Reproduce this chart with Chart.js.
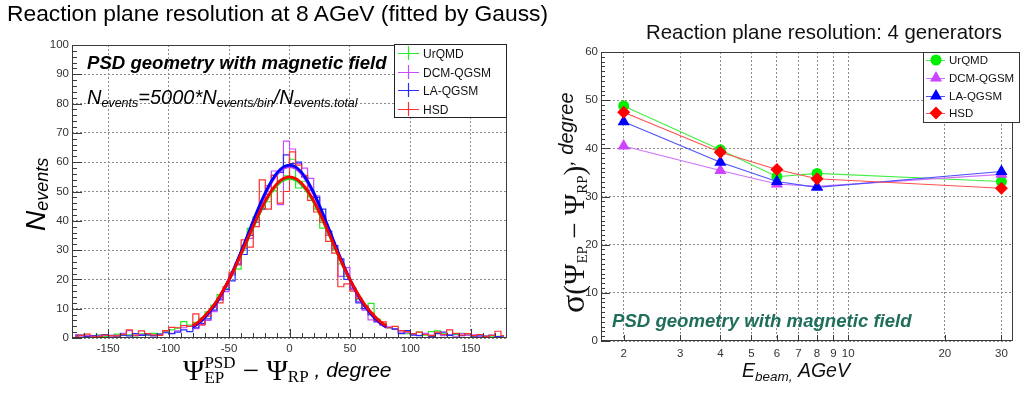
<!DOCTYPE html>
<html>
<head>
<meta charset="utf-8">
<script src="https://cdn.jsdelivr.net/npm/chart.js@4.4.1/dist/chart.umd.min.js"></script>
<style>
  html, body { margin: 0; padding: 0; background: #fff; width: 1020px; height: 394px; overflow: hidden; }
  canvas { position: absolute; top: 0; }
  #c1 { left: 0; }
  #c2 { left: 520px; }
  #title { position: absolute; left: 7px; top: -1.5px; font: 22.8px "Liberation Sans", Arial, sans-serif; line-height: 28px; white-space: nowrap; color: #000; }
</style>
</head>
<body>
<canvas id="c1" width="515" height="394"></canvas>
<canvas id="c2" width="500" height="394"></canvas>
<div id="title">Reaction plane resolution at 8 AGeV (fitted by Gauss)</div>
<script>
// ---- data: histogram at 8 AGeV (5 degree bins, centres) ----
const binCenters = [
  -177.5, -172.5, -167.5, -162.5, -157.5, -152.5, -147.5, -142.5, -137.5, -132.5, -127.5, -122.5,
  -117.5, -112.5, -107.5, -102.5, -97.5, -92.5, -87.5, -82.5, -77.5, -72.5, -67.5, -62.5,
  -57.5, -52.5, -47.5, -42.5, -37.5, -32.5, -27.5, -22.5, -17.5, -12.5, -7.5, -2.5,
  2.5, 7.5, 12.5, 17.5, 22.5, 27.5, 32.5, 37.5, 42.5, 47.5, 52.5, 57.5,
  62.5, 67.5, 72.5, 77.5, 82.5, 87.5, 92.5, 97.5, 102.5, 107.5, 112.5, 117.5,
  122.5, 127.5, 132.5, 137.5, 142.5, 147.5, 152.5, 157.5, 162.5, 167.5, 172.5, 177.5
];
const histUrQMD = [
  0.6, 0.9, 0.4, 0.7, 1.1, 0.5, 0.8, 1.3, 0.9, 1.1, 0.7, 1.4, 1.0, 1.6, 1.3, 2.2, 2.8,
  3.4, 5.6, 4.4, 5.3, 6.8, 8.9, 11.2, 14.8, 16.9, 21.8, 23.5, 31.5, 37.4, 41.5, 44.2, 46.5, 50.2, 53.8, 55.3,
  61.0, 51.2, 53.5, 48.2, 44.0, 37.5, 35.5, 30.2, 25.3, 21.0, 16.5, 13.2, 10.8, 11.8, 6.5, 4.8, 3.5, 3.0,
  2.5, 1.5, 1.2, 2.0, 1.0, 2.2, 2.4, 1.4, 0.9, 1.2, 1.6, 1.0, 0.7, 0.5, 0.8, 0.4, 0.6, 0.3
];
const histDCM = [
  1.2, 0.4, 0.8, 0.5, 0.9, 1.0, 0.6, 0.9, 1.6, 2.5, 0.8, 1.2, 1.5, 0.7, 1.0, 2.0, 1.6,
  2.4, 3.5, 4.0, 3.2, 4.5, 6.0, 9.0, 13.5, 15.8, 21.5, 25.5, 30.5, 34.0, 41.0, 46.0, 52.0, 57.0, 45.5, 67.2,
  64.5, 59.5, 58.0, 54.5, 48.5, 41.5, 35.0, 30.5, 21.0, 24.0, 16.5, 12.5, 9.5, 6.2, 5.8, 4.5, 3.8, 3.2,
  2.0, 1.8, 1.3, 0.9, 1.6, 1.0, 1.8, 0.8, 1.2, 0.6, 1.5, 0.9, 1.1, 0.5, 0.7, 0.9, 0.4, 0.6
];
const histLAQGSM = [
  0.7, 1.0, 0.5, 0.8, 0.6, 1.2, 0.9, 0.4, 1.0, 0.7, 1.5, 0.9, 1.1, 0.8, 1.3, 1.8, 1.5,
  2.0, 2.8, 2.2, 3.5, 5.0, 6.5, 9.5, 13.0, 16.5, 19.5, 25.0, 28.5, 35.0, 39.5, 44.0, 49.0, 55.5, 56.5, 62.5,
  59.5, 60.0, 55.0, 50.5, 48.0, 44.0, 36.5, 31.5, 27.0, 20.0, 17.0, 12.0, 10.0, 8.0, 5.5, 4.5, 3.5, 3.0,
  1.5, 2.5, 1.0, 0.8, 1.2, 0.5, 1.5, 2.0, 0.9, 1.5, 0.8, 1.5, 0.6, 1.0, 0.4, 0.9, 0.5, 0.3
];
const histHSD = [
  0.4, 0.9, 1.3, 0.6, 0.5, 1.0, 0.8, 0.7, 1.2, 2.8, 1.0, 2.4, 1.5, 1.1, 0.9, 2.5, 3.6,
  3.5, 4.2, 4.0, 8.2, 4.5, 7.5, 10.5, 12.0, 17.5, 22.5, 25.0, 33.5, 31.0, 38.0, 54.0, 44.0, 55.5, 46.0, 50.0,
  63.5, 59.0, 55.5, 47.0, 43.0, 39.5, 33.0, 29.0, 17.5, 18.5, 16.0, 13.5, 11.0, 8.5, 6.0, 5.5, 3.5, 4.0,
  2.5, 2.2, 1.5, 2.0, 1.2, 0.8, 2.0, 1.2, 2.8, 1.6, 1.0, 1.5, 0.8, 1.2, 0.5, 0.9, 2.3, 0.8
];

// Gauss fits, every 5 degrees
const fitX = [-80, -75, -70, -65, -60, -55, -50, -45, -40, -35, -30, -25, -20, -15, -10, -5, 0,
  5, 10, 15, 20, 25, 30, 35, 40, 45, 50, 55, 60, 65, 70, 75, 80];
const fitUrQMD = [4.0, 5.5, 7.5, 9.8, 12.7, 16.0, 19.8, 24.0, 28.5, 33.2, 37.9, 42.3, 46.4, 49.8, 52.3, 53.9, 54.5,
  53.9, 52.3, 49.8, 46.4, 42.3, 37.9, 33.2, 28.5, 24.0, 19.8, 16.0, 12.7, 9.8, 7.5, 5.5, 4.0];
const fitDCM = [3.7, 5.1, 7.0, 9.4, 12.3, 15.8, 19.8, 24.3, 29.3, 34.4, 39.7, 44.6, 49.2, 53.1, 56.0, 57.9, 58.5,
  57.9, 56.0, 53.1, 49.2, 44.6, 39.7, 34.4, 29.3, 24.3, 19.8, 15.8, 12.3, 9.4, 7.0, 5.1, 3.7];
const fitLAQGSM = [3.7, 5.2, 7.1, 9.5, 12.4, 16.0, 20.0, 24.6, 29.5, 34.7, 40.0, 45.0, 49.6, 53.5, 56.5, 58.4, 59.0,
  58.4, 56.5, 53.5, 49.6, 45.0, 40.0, 34.7, 29.5, 24.6, 20.0, 16.0, 12.4, 9.5, 7.1, 5.2, 3.7];
const fitHSD = [4.1, 5.6, 7.6, 9.9, 12.8, 16.2, 20.0, 24.2, 28.8, 33.5, 38.2, 42.7, 46.8, 50.2, 52.8, 54.4, 55.0,
  54.4, 52.8, 50.2, 46.8, 42.7, 38.2, 33.5, 28.8, 24.2, 20.0, 16.2, 12.8, 9.9, 7.6, 5.6, 4.1];
const psiTicks = [-150, -100, -50, 0, 50, 100, 150];

// ---- data: resolution vs beam energy ----
const energies = [2, 4, 6, 8, 30];
const resUrQMD = [48.8, 39.7, 34.1, 34.8, 33.1];
const resDCM = [40.5, 35.4, 32.6, 32.1, 34.6];
const resLAQGSM = [45.5, 37.1, 33.1, 31.9, 35.2];
const resHSD = [47.5, 39.2, 35.6, 33.7, 31.7];
const energyTicks = [2, 3, 4, 5, 6, 7, 8, 9, 10, 20, 30];

const generators = ["UrQMD", "DCM-QGSM", "LA-QGSM", "HSD"];

const SANS = '"Liberation Sans", Arial, Helvetica, sans-serif';
const SERIF = '"Liberation Serif", "Times New Roman", serif';

// 텍스트 조각을 이어서 그림 (첨자용)
function rich(ctx, x, y, parts) {
  let cx = x;
  for (const p of parts) {
    ctx.font = p.f;
    if (p.sup != null) {
      ctx.fillText(p.sup, cx, y + p.dsup);
      const w1 = ctx.measureText(p.sup).width;
      ctx.fillText(p.sub, cx, y + p.dsub);
      const w2 = ctx.measureText(p.sub).width;
      cx += Math.max(w1, w2);
    } else {
      ctx.fillText(p.t, cx, y + (p.dy || 0));
      cx += ctx.measureText(p.t).width;
    }
  }
  return cx - x;
}

function richUp(ctx, x, y, parts) {
  ctx.save();
  ctx.translate(x, y);
  ctx.rotate(-Math.PI / 2);
  rich(ctx, 0, 0, parts);
  ctx.restore();
}

// ROOT style frame + inner ticks
function frameAndTicks(chart, yMinor, yMajorLen, yMinorLen, xList) {
  const { ctx, chartArea: a, scales: { x, y } } = chart;
  ctx.save();
  ctx.strokeStyle = "#3a3a3a";
  ctx.lineWidth = 1;
  ctx.strokeRect(a.left + 0.5, a.top + 0.5, a.right - a.left - 1, a.bottom - a.top - 1);
  ctx.beginPath();
  for (let v = y.min; v <= y.max + 1e-6; v += yMinor) {
    const py = Math.round(y.getPixelForValue(v)) + 0.5;
    const major = Math.abs(v / 10 - Math.round(v / 10)) < 1e-6;
    ctx.moveTo(a.left, py);
    ctx.lineTo(a.left + (major ? yMajorLen : yMinorLen), py);
  }
  for (const [v, len] of xList) {
    const px = Math.round(x.getPixelForValue(v)) + 0.5;
    ctx.moveTo(px, a.bottom);
    ctx.lineTo(px, a.bottom - len);
  }
  ctx.stroke();
  ctx.restore();
}

const histColors = ["#22ee22", "#c84cff", "#2a2aff", "#ff3030"];
const fitColors = ["#11dd11", "#b833ff", "#0000ff", "#ff0000"];

function histDs(label, vals, color, order) {
  return {
    label, order, borderColor: color, borderWidth: 1.2, stepped: "middle",
    pointRadius: 0, fill: false,
    data: binCenters.map((x, i) => ({ x, y: vals[i] }))
  };
}
function fitDs(label, vals, color, order) {
  return {
    label, order, borderColor: color, borderWidth: 2.8, tension: 0.35,
    pointRadius: 0, fill: false,
    data: fitX.map((x, i) => ({ x, y: vals[i] }))
  };
}

const tickFont = { family: SANS, size: 11.5 };

// ---------------- left chart ----------------
const leftDeco = {
  id: "leftDeco",
  afterDraw(chart) {
    const ctx = chart.ctx;
    const xl = [];
    for (let v = -170; v <= 170; v += 10) xl.push([v, v % 50 === 0 ? 9 : 5]);
    frameAndTicks(chart, 2, 10, 5, xl);

    ctx.save();
    ctx.fillStyle = "#000";
    ctx.textBaseline = "alphabetic";
    ctx.font = "bold italic 18.6px " + SANS;
    ctx.fillText("PSD geometry with magnetic field", 87, 69);

    rich(ctx, 87, 104, [
      { t: "N", f: "italic 20px " + SANS },
      { t: "events", f: "italic 12.5px " + SANS, dy: 3 },
      { t: "=5000*N", f: "italic 20px " + SANS },
      { t: "events/bin", f: "italic 12.5px " + SANS, dy: 3 },
      { t: "/N", f: "italic 20px " + SANS },
      { t: "events.total", f: "italic 12.5px " + SANS, dy: 3 }
    ]);

    // y title
    richUp(ctx, 45, 231, [
      { t: "N", f: "italic 28px " + SANS },
      { t: "events", f: "italic 18px " + SANS, dy: 3 }
    ]);

    // x title
    rich(ctx, 183, 380, [
      { t: "\u03A8", f: "29px " + SERIF },
      { sup: "PSD", sub: "EP", dsup: -12, dsub: 3, f: "17px " + SERIF },
      { t: " \u2212 \u03A8", f: "29px " + SERIF },
      { t: "RP", f: "17px " + SERIF, dy: 2 },
      { t: " , degree", f: "italic 21px " + SANS, dy: -3 }
    ]);

    // legend box
    ctx.fillStyle = "#fff";
    ctx.fillRect(394, 44, 113, 74);
    ctx.strokeStyle = "#222";
    ctx.lineWidth = 1;
    ctx.strokeRect(394.5, 44.5, 112, 73);
    const ly = [53, 72, 90, 109];
    ctx.font = "12px " + SANS;
    generators.forEach((g, i) => {
      ctx.strokeStyle = histColors[i];
      ctx.lineWidth = 1.2;
      ctx.beginPath();
      ctx.moveTo(398, ly[i] + 0.5); ctx.lineTo(419, ly[i] + 0.5);
      ctx.moveTo(408.5, ly[i] - 7); ctx.lineTo(408.5, ly[i] + 7);
      ctx.stroke();
      ctx.fillStyle = "#111";
      ctx.fillText(g, 423, ly[i] + 5);
    });
    ctx.restore();
  }
};

new Chart(document.getElementById("c1"), {
  type: "line",
  data: {
    datasets: [
      fitDs("UrQMD fit", fitUrQMD, fitColors[0], 3),
      fitDs("DCM-QGSM fit", fitDCM, fitColors[1], 2),
      fitDs("LA-QGSM fit", fitLAQGSM, fitColors[2], 1),
      fitDs("HSD fit", fitHSD, fitColors[3], 0),
      histDs("UrQMD", histUrQMD, histColors[0], 7),
      histDs("DCM-QGSM", histDCM, histColors[1], 6),
      histDs("LA-QGSM", histLAQGSM, histColors[2], 5),
      histDs("HSD", histHSD, histColors[3], 4)
    ]
  },
  options: {
    responsive: false,
    animation: false,
    layout: { padding: { top: 45, right: 8, left: 0, bottom: 0 } },
    plugins: { legend: { display: false }, tooltip: { enabled: false } },
    scales: {
      x: {
        type: "linear", min: -180, max: 180,
        afterBuildTicks: s => { s.ticks = psiTicks.map(v => ({ value: v })); },
        afterFit: s => { s.height = 56; },
        grid: { color: "#8a8a8a", drawTicks: false },
        border: { display: false, dash: [2, 2] },
        ticks: { font: tickFont, color: "#333", padding: 4, maxRotation: 0, autoSkip: false }
      },
      y: {
        min: 0, max: 100,
        afterFit: s => { s.width = 72; },
        grid: { color: "#8a8a8a", drawTicks: false },
        border: { display: false, dash: [2, 2] },
        ticks: { stepSize: 10, font: tickFont, color: "#333", padding: 3 }
      }
    }
  },
  plugins: [leftDeco]
});

// ---------------- right chart ----------------
const resColors = ["#00ee00", "#cc44ff", "#0000ff", "#ff0000"];
const resLineColors = ["#44ee44", "#d070ff", "#5050ff", "#ff5050"];
const resStyles = ["circle", "triangle", "triangle", "rectRot"];
const resRadius = [5.5, 7, 7, 6.5];
const resSeries = [resUrQMD, resDCM, resLAQGSM, resHSD];

const rightDeco = {
  id: "rightDeco",
  afterDraw(chart) {
    const ctx = chart.ctx;
    frameAndTicks(chart, 1, 9, 4, energyTicks.map(v => [v, 6]));

    ctx.save();
    ctx.fillStyle = "#111";
    ctx.font = "20.4px " + SANS;
    ctx.textAlign = "center";
    ctx.fillText("Reaction plane resolution: 4 generators", 304, 39);
    ctx.textAlign = "left";

    // y title
    richUp(ctx, 64, 313, [
      { t: "\u03C3", f: "34px " + SERIF },
      { t: "(\u03A8", f: "29px " + SERIF },
      { t: "EP", f: "15px " + SERIF, dy: 3 },
      { t: " \u2212 \u03A8", f: "29px " + SERIF },
      { t: "RP", f: "15px " + SERIF, dy: 3 },
      { t: ")", f: "29px " + SERIF },
      { t: ", degree", f: "italic 20px " + SANS, dy: -11 }
    ]);

    // x title
    rich(ctx, 222, 377, [
      { t: "E", f: "italic 19.5px " + SANS },
      { t: "beam,", f: "italic 13.5px " + SANS, dy: 4 },
      { t: " AGeV", f: "italic 19.5px " + SANS }
    ]);

    ctx.fillStyle = "#1f6e5b";
    ctx.font = "bold italic 18.6px " + SANS;
    ctx.fillText("PSD geometry with magnetic field", 92, 327);

    // legend
    ctx.fillStyle = "#fff";
    ctx.fillRect(403, 52, 97, 71);
    ctx.strokeStyle = "#333";
    ctx.lineWidth = 1;
    ctx.strokeRect(403.5, 52.5, 96, 70);
    const ly = [60, 78, 96, 113];
    ctx.font = "11.5px " + SANS;
    generators.forEach((g, i) => {
      ctx.strokeStyle = resLineColors[i];
      ctx.lineWidth = 1;
      ctx.beginPath();
      ctx.moveTo(406, ly[i] + 0.5); ctx.lineTo(425, ly[i] + 0.5);
      ctx.stroke();
      ctx.fillStyle = resColors[i];
      Chart.helpers.drawPoint(ctx, { pointStyle: resStyles[i], radius: resRadius[i], rotation: 0, borderWidth: 0 }, 416, ly[i]);
      ctx.fillStyle = "#111";
      ctx.fillText(g, 429, ly[i] + 4);
    });
    ctx.restore();
  }
};

new Chart(document.getElementById("c2"), {
  type: "line",
  data: {
    datasets: resSeries.map((vals, i) => ({
      label: generators[i],
      order: [3, 2, 1, 0][i],
      data: energies.map((e, k) => ({ x: e, y: vals[k] })),
      borderColor: resLineColors[i],
      borderWidth: 1.1,
      pointStyle: resStyles[i],
      pointRadius: resRadius[i],
      pointBackgroundColor: resColors[i],
      pointBorderWidth: 0,
      fill: false,
      tension: 0
    }))
  },
  options: {
    responsive: false,
    animation: false,
    layout: { padding: { top: 52, right: 1, left: 0, bottom: 0 } },
    plugins: { legend: { display: false }, tooltip: { enabled: false } },
    scales: {
      x: {
        type: "logarithmic", min: 1.7, max: 32.6,
        afterBuildTicks: s => { s.ticks = energyTicks.map(v => ({ value: v })); },
        afterFit: s => { s.height = 53; },
        grid: { color: "#8a8a8a", drawTicks: false },
        border: { display: false, dash: [2, 2] },
        ticks: { font: tickFont, color: "#333", padding: 6, maxRotation: 0, autoSkip: false, callback: v => String(v) }
      },
      y: {
        min: 0, max: 60,
        afterFit: s => { s.width = 81; },
        grid: { color: "#8a8a8a", drawTicks: false },
        border: { display: false, dash: [2, 2] },
        ticks: { stepSize: 10, font: tickFont, color: "#333", padding: 3 }
      }
    }
  },
  plugins: [rightDeco]
});
</script>
</body>
</html>
